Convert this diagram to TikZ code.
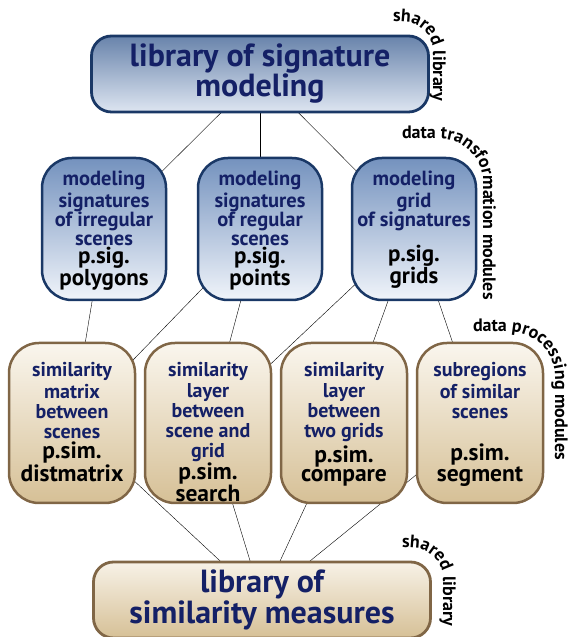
\documentclass[tikz,border=0pt]{standalone}
\usepackage{fontspec}
\setmainfont{PT Sans}
\usetikzlibrary{positioning,decorations.text,backgrounds}

\definecolor{navy}{RGB}{20,32,102}
\definecolor{sigline}{RGB}{26,56,102}
\definecolor{sigtop}{RGB}{116,146,190}
\definecolor{sigbot}{RGB}{240,244,250}
\definecolor{simline}{RGB}{128,102,70}
\definecolor{simtop}{RGB}{250,246,238}
\definecolor{simbot}{RGB}{214,192,150}

\newcommand{\sigtext}[2]{\parbox[c][119.4pt][t]{122pt}{\centering\vspace*{2pt}
  \fontsize{20.5}{19}\selectfont\bfseries\color{navy}\strut#1\par\vfill
  \fontsize{23}{18}\selectfont\color{black}#2\strut\par}}
\newcommand{\simtext}[2]{\parbox[c][127.7pt][t]{124pt}{\centering\vspace*{3.5pt}
  \fontsize{20}{20}\selectfont\bfseries\color{navy}\strut#1\par\vfill
  \fontsize{23.5}{19}\selectfont\color{black}#2\strut\par}}

\begin{document}
\begin{tikzpicture}[x=1pt,y=1pt,on grid,node distance=155pt,
  sigbox/.style={draw=sigline,line width=2.5pt,rounded corners=30pt,
    top color=sigtop,bottom color=sigbot,
    minimum width=124pt,minimum height=142pt,inner sep=0pt},
  simbox/.style={draw=simline,line width=2.5pt,rounded corners=30pt,
    top color=simtop,bottom color=simbot,
    minimum width=126pt,minimum height=160pt,inner sep=0pt},
  libbox/.style={line width=2.8pt,rounded corners=20pt,
    minimum width=337pt,minimum height=76pt,inner sep=0pt,align=center,
    text=navy,font=\fontsize{32}{30}\selectfont\bfseries},
  curved/.style={decorate,decoration={text along path,text align=left,
    text={|\fontsize{18}{18}\selectfont\bfseries|#1}}}]
  \useasboundingbox (0,0) rectangle (571,637);

  % shared libraries
  \node[libbox,draw=sigline,top color=sigtop!90!black,bottom color=sigbot!85!sigtop]
    (siglib) at (260,563) {library of signature\\modeling};
  \node[libbox,draw=simline,top color=simtop!92!simbot,bottom color=simbot,
    font=\fontsize{32}{31}\selectfont\bfseries]
    (simlib) at (262,37) {library of\\similarity measures};

  % p.sig. modules
  \node[sigbox] (points)   [below=155pt of siglib]
    {\sigtext{modeling\\signatures\\of regular\\scenes}{p.sig.\\points}};
  \node[sigbox] (polygons) [left=156pt of points]
    {\sigtext{modeling\\signatures\\of irregular\\scenes}{p.sig.\\polygons}};
  \node[sigbox] (grids)    [right=154pt of points]
    {\sigtext{modeling\\grid\\of signatures}{p.sig.\\grids}};

  % p.sim. modules
  \node[simbox] (search)     [below left=194pt and 52pt of points]
    {\simtext{similarity\\layer\\between\\scene and\\grid}{p.sim.\\search}};
  \node[simbox] (distmatrix) [left=136pt of search]
    {\simtext{similarity\\matrix\\between\\scenes}{p.sim.\\distmatrix}};
  \node[simbox] (compare)    [right=136pt of search]
    {\simtext{similarity\\layer\\between\\two grids}{p.sim.\\compare}};
  \node[simbox] (segment)    [right=136pt of compare]
    {\simtext{subregions\\of similar\\scenes}{p.sim.\\segment}};

  \begin{scope}[on background layer,line width=1.1pt]
    \path (siglib.center) edge (polygons.center)
                          edge (points.center)
                          edge (grids.center)
    (polygons.center) edge (distmatrix.center)
    (points.center)   edge (distmatrix.center)
                      edge (search.center)
    (grids.center)    edge (search.center)
                      edge (compare.center)
                      edge (segment.center)
    (simlib.center)   edge (distmatrix.center)
                      edge (search.center)
                      edge (compare.center)
                      edge (segment.center);
  \end{scope}

  % layer labels
  \path[curved={shared library}]
    (393,615) -- (403,615) arc (90:0:30) -- (433,500);
  \path[curved={data transformation modules}]
    (402,498) -- (440,498) arc (90:0:43) -- (483,300);
  \path[curved={data processing modules}]
    (473,305) -- (510,305) arc (90:0:45) -- (555,130);
  \path[curved={shared library}]
    (402,89) -- (412,89) arc (90:0:31) -- (443,0);
\end{tikzpicture}
\end{document}
